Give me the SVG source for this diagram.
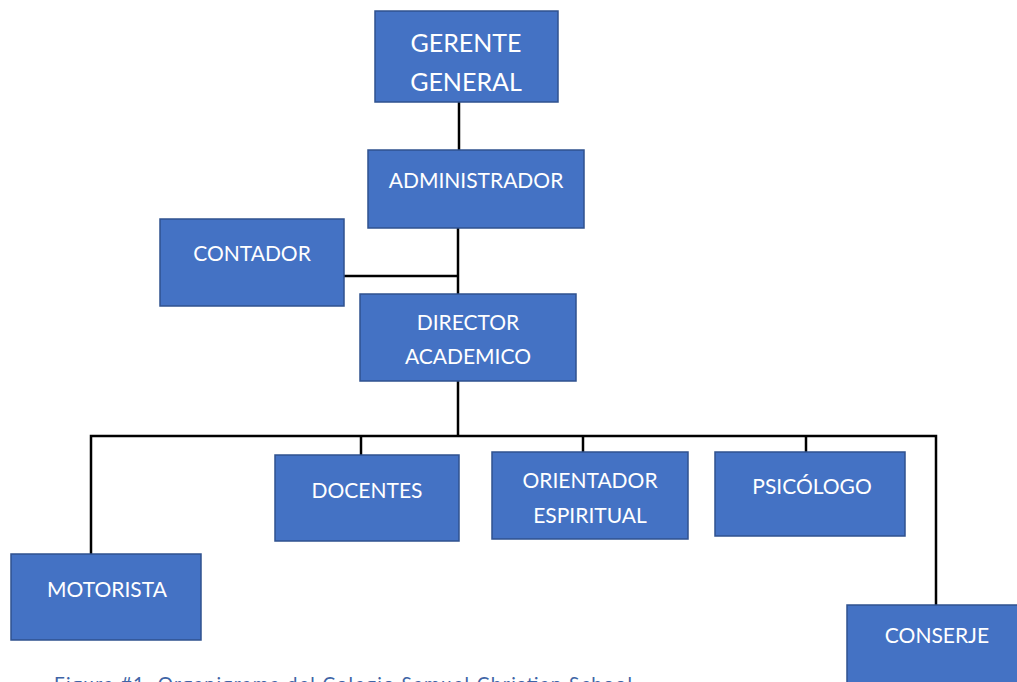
<svg xmlns="http://www.w3.org/2000/svg" width="1017" height="682" viewBox="0 0 1017 682">
  <style>
    .box { fill: #4472C4; stroke: #2F528F; stroke-width: 1.5; }
    .lbl { fill: #FFFFFF; font-family: Lato, "Open Sans", "Liberation Sans", sans-serif; font-size: 21px; text-anchor: middle; }
    .big { font-size: 25px; }
    .conn { stroke: #000000; stroke-width: 2.5; fill: none; }
    .caption { fill: #3E64A6; font-family: Lato, "Liberation Sans", sans-serif; font-size: 19px; }
  </style>
  <rect width="1017" height="682" fill="#FFFFFF"/>

  <!-- reporting lines -->
  <g id="connectors">
    <line class="conn" x1="459" y1="102" x2="459" y2="150"/>
    <line class="conn" x1="458" y1="228" x2="458" y2="294"/>
    <line class="conn" x1="344" y1="276" x2="458" y2="276"/>
    <line class="conn" x1="458" y1="381" x2="458" y2="436"/>
    <polyline class="conn" points="91,555 91,436 936,436 936,605"/>
    <line class="conn" x1="361" y1="436" x2="361" y2="455"/>
    <line class="conn" x1="583" y1="436" x2="583" y2="452"/>
    <line class="conn" x1="806" y1="436" x2="806" y2="452"/>
  </g>

  <g id="gerente-general">
    <rect class="box" x="375" y="11" width="183" height="91"/>
    <text class="lbl big" x="466" y="52">GERENTE</text>
    <text class="lbl big" x="466" y="91">GENERAL</text>
  </g>

  <g id="administrador">
    <rect class="box" x="368" y="150" width="216" height="78"/>
    <text class="lbl" x="476" y="188">ADMINISTRADOR</text>
  </g>

  <g id="contador">
    <rect class="box" x="160" y="219" width="184" height="87"/>
    <text class="lbl" x="252" y="261">CONTADOR</text>
  </g>

  <g id="director-academico">
    <rect class="box" x="360" y="294" width="216" height="87"/>
    <text class="lbl" x="468" y="330">DIRECTOR</text>
    <text class="lbl" x="468" y="364">ACADEMICO</text>
  </g>

  <g id="docentes">
    <rect class="box" x="275" y="455" width="184" height="86"/>
    <text class="lbl" x="367" y="498">DOCENTES</text>
  </g>

  <g id="orientador-espiritual">
    <rect class="box" x="492" y="452" width="196" height="87"/>
    <text class="lbl" x="590" y="488">ORIENTADOR</text>
    <text class="lbl" x="590" y="523">ESPIRITUAL</text>
  </g>

  <g id="psicologo">
    <rect class="box" x="715" y="452" width="190" height="84"/>
    <text class="lbl" x="812" y="494">PSICÓLOGO</text>
  </g>

  <g id="motorista">
    <rect class="box" x="11" y="554" width="190" height="86"/>
    <text class="lbl" x="107" y="597">MOTORISTA</text>
  </g>

  <g id="conserje">
    <rect class="box" x="847" y="605" width="180" height="90"/>
    <text class="lbl" x="937" y="643">CONSERJE</text>
  </g>

  <!-- figure caption, running off the lower edge of the page -->
  <text class="caption" x="54" y="691" textLength="578" lengthAdjust="spacing">Figura #1. Organigrama del Colegio Samuel Christian School</text>
</svg>
